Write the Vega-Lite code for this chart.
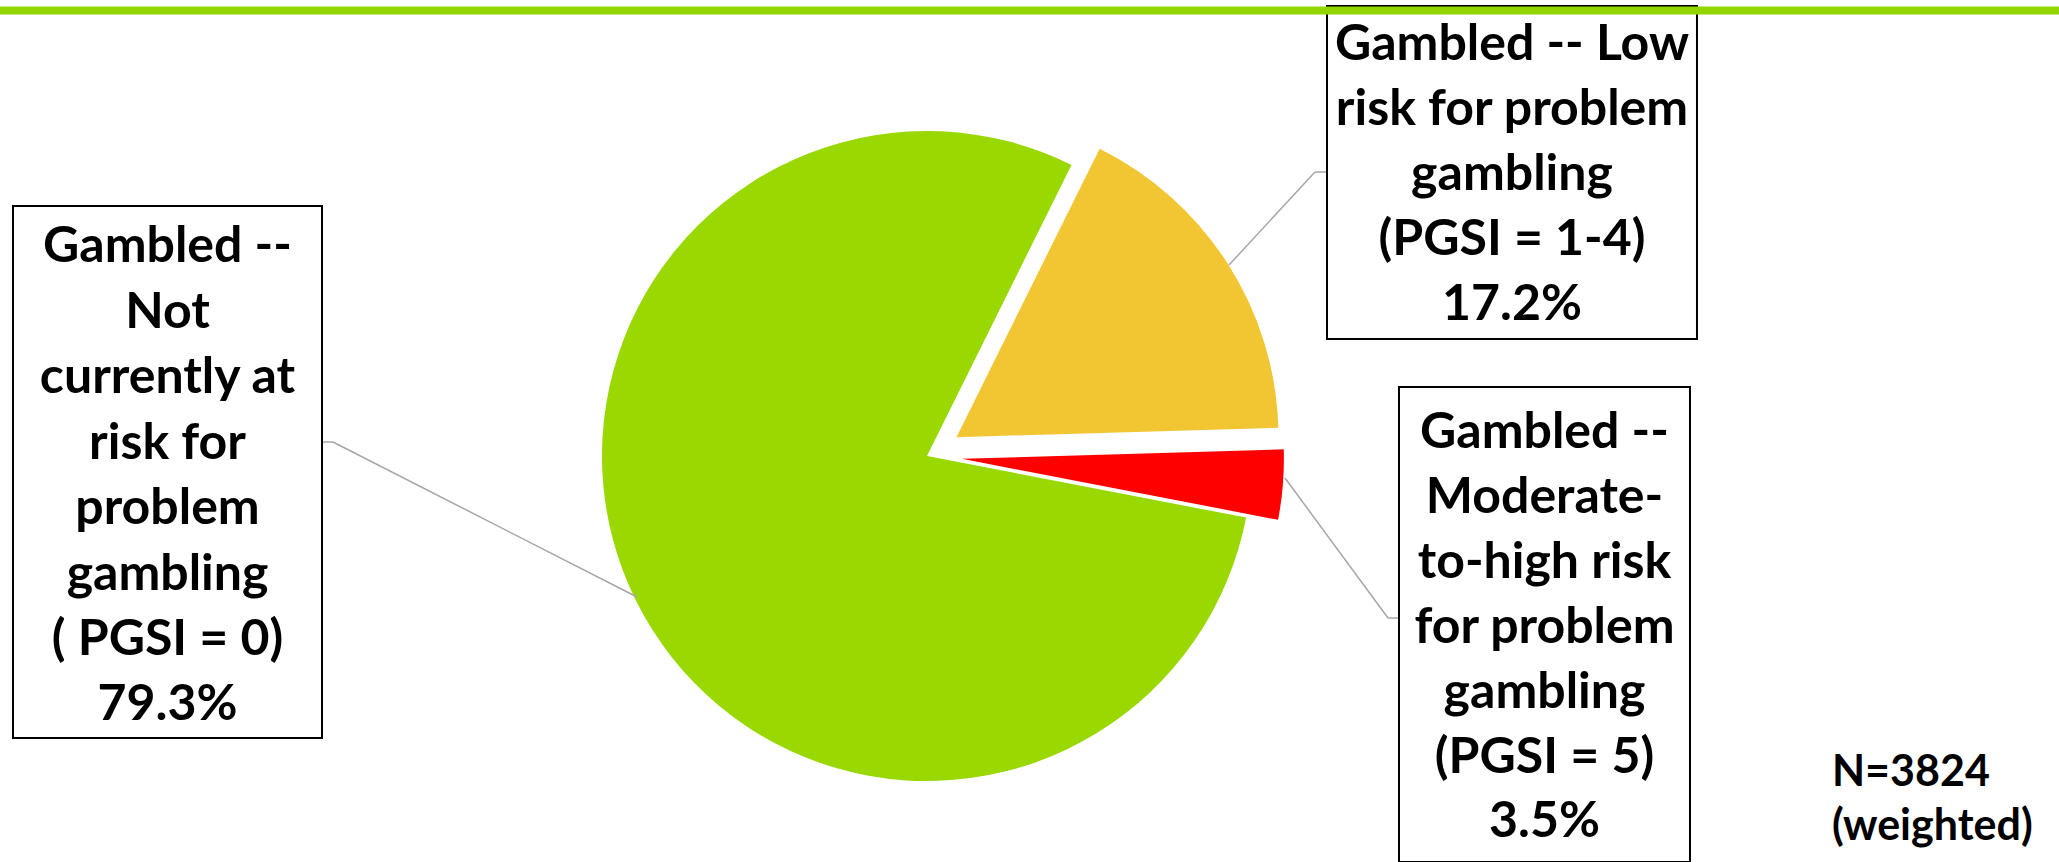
{
  "$schema": "https://vega.github.io/schema/vega-lite/v6.json",
  "width": 2059,
  "height": 862,
  "autosize": {"type": "none"},
  "padding": 0,
  "background": "white",
  "config": {"view": {"stroke": null}, "text": {"font": "Lato", "fontWeight": "bold", "color": "black"}},
  "data": {"values": [
    {"category": "Low risk", "label": "Gambled -- Low\nrisk for problem\ngambling\n(PGSI = 1-4)", "share": 0.172},
    {"category": "Moderate-to-high risk", "label": "Gambled --\nModerate-\nto-high risk\nfor problem\ngambling\n(PGSI = 5)", "share": 0.035},
    {"category": "Not currently at risk", "label": "Gambled --\nNot\ncurrently at\nrisk for\nproblem\ngambling\n( PGSI = 0)", "share": 0.793}
  ]},
  "transform": [
    {"stack": "share", "groupby": [], "sort": [{"field": "category", "order": "ascending"}], "as": ["s0", "s1"]}
  ],
  "layer": [
    {
      "transform": [{"filter": "datum.category == 'Not currently at risk'"}],
      "mark": {"type": "arc", "radius": 325},
      "encoding": {
        "x": {"datum": 0, "type": "quantitative", "scale": {"domain": [-2.8523, 3.4831], "nice": false, "zero": false}, "axis": null},
        "y": {"datum": 0, "type": "quantitative", "scale": {"domain": [-1.2492, 1.4031], "nice": false, "zero": false}, "axis": null},
        "theta": {"field": "s0", "type": "quantitative", "stack": null, "scale": {"domain": [0, 1], "range": [0.4608, 6.744]}},
        "theta2": {"field": "s1"},
        "color": {"field": "category", "type": "nominal", "scale": {"domain": ["Low risk", "Moderate-to-high risk", "Not currently at risk"], "range": ["#f2c532", "#ff0000", "#99d800"]}, "legend": null}
      }
    },
    {
      "transform": [{"filter": "datum.category == 'Low risk'"}],
      "mark": {"type": "arc", "radius": 322},
      "encoding": {
        "x": {"datum": 0.0907, "type": "quantitative", "scale": {"domain": [-2.8523, 3.4831], "nice": false, "zero": false}, "axis": null},
        "y": {"datum": 0.058, "type": "quantitative", "scale": {"domain": [-1.2492, 1.4031], "nice": false, "zero": false}, "axis": null},
        "theta": {"field": "s0", "type": "quantitative", "stack": null, "scale": {"domain": [0, 1], "range": [0.4608, 6.744]}},
        "theta2": {"field": "s1"},
        "color": {"field": "category", "type": "nominal", "scale": {"domain": ["Low risk", "Moderate-to-high risk", "Not currently at risk"], "range": ["#f2c532", "#ff0000", "#99d800"]}, "legend": null}
      }
    },
    {
      "transform": [{"filter": "datum.category == 'Moderate-to-high risk'"}],
      "mark": {"type": "arc", "radius": 322},
      "encoding": {
        "x": {"datum": 0.1074, "type": "quantitative", "scale": {"domain": [-2.8523, 3.4831], "nice": false, "zero": false}, "axis": null},
        "y": {"datum": -0.0086, "type": "quantitative", "scale": {"domain": [-1.2492, 1.4031], "nice": false, "zero": false}, "axis": null},
        "theta": {"field": "s0", "type": "quantitative", "stack": null, "scale": {"domain": [0, 1], "range": [0.4608, 6.744]}},
        "theta2": {"field": "s1"},
        "color": {"field": "category", "type": "nominal", "scale": {"domain": ["Low risk", "Moderate-to-high risk", "Not currently at risk"], "range": ["#f2c532", "#ff0000", "#99d800"]}, "legend": null}
      }
    },
    {
      "transform": [{"filter": "datum.category == 'Not currently at risk'"}],
      "mark": {"type": "rule", "color": "#a6a6a6", "strokeWidth": 1.5},
      "encoding": {
        "x": {"datum": -1.8615, "type": "quantitative", "scale": {"domain": [-2.8523, 3.4831], "nice": false, "zero": false}, "axis": null},
        "y": {"datum": 0.0431, "type": "quantitative", "scale": {"domain": [-1.2492, 1.4031], "nice": false, "zero": false}, "axis": null},
        "x2": {"datum": -1.8277},
        "y2": {"datum": 0.0431}
      }
    },
    {
      "transform": [{"filter": "datum.category == 'Not currently at risk'"}],
      "mark": {"type": "rule", "color": "#a6a6a6", "strokeWidth": 1.5},
      "encoding": {
        "x": {"datum": -1.8277, "type": "quantitative", "scale": {"domain": [-2.8523, 3.4831], "nice": false, "zero": false}, "axis": null},
        "y": {"datum": 0.0431, "type": "quantitative", "scale": {"domain": [-1.2492, 1.4031], "nice": false, "zero": false}, "axis": null},
        "x2": {"datum": -0.8923},
        "y2": {"datum": -0.4338}
      }
    },
    {
      "transform": [{"filter": "datum.category == 'Low risk'"}],
      "mark": {"type": "rule", "color": "#a6a6a6", "strokeWidth": 1.5},
      "encoding": {
        "x": {"datum": 1.2308, "type": "quantitative", "scale": {"domain": [-2.8523, 3.4831], "nice": false, "zero": false}, "axis": null},
        "y": {"datum": 0.8738, "type": "quantitative", "scale": {"domain": [-1.2492, 1.4031], "nice": false, "zero": false}, "axis": null},
        "x2": {"datum": 1.1938},
        "y2": {"datum": 0.8738}
      }
    },
    {
      "transform": [{"filter": "datum.category == 'Low risk'"}],
      "mark": {"type": "rule", "color": "#a6a6a6", "strokeWidth": 1.5},
      "encoding": {
        "x": {"datum": 1.1938, "type": "quantitative", "scale": {"domain": [-2.8523, 3.4831], "nice": false, "zero": false}, "axis": null},
        "y": {"datum": 0.8738, "type": "quantitative", "scale": {"domain": [-1.2492, 1.4031], "nice": false, "zero": false}, "axis": null},
        "x2": {"datum": 0.9292},
        "y2": {"datum": 0.5877}
      }
    },
    {
      "transform": [{"filter": "datum.category == 'Moderate-to-high risk'"}],
      "mark": {"type": "rule", "color": "#a6a6a6", "strokeWidth": 1.5},
      "encoding": {
        "x": {"datum": 1.1015, "type": "quantitative", "scale": {"domain": [-2.8523, 3.4831], "nice": false, "zero": false}, "axis": null},
        "y": {"datum": -0.0677, "type": "quantitative", "scale": {"domain": [-1.2492, 1.4031], "nice": false, "zero": false}, "axis": null},
        "x2": {"datum": 1.4185},
        "y2": {"datum": -0.4985}
      }
    },
    {
      "transform": [{"filter": "datum.category == 'Moderate-to-high risk'"}],
      "mark": {"type": "rule", "color": "#a6a6a6", "strokeWidth": 1.5},
      "encoding": {
        "x": {"datum": 1.4185, "type": "quantitative", "scale": {"domain": [-2.8523, 3.4831], "nice": false, "zero": false}, "axis": null},
        "y": {"datum": -0.4985, "type": "quantitative", "scale": {"domain": [-1.2492, 1.4031], "nice": false, "zero": false}, "axis": null},
        "x2": {"datum": 1.4523},
        "y2": {"datum": -0.4985}
      }
    },
    {
      "transform": [{"filter": "datum.category == 'Not currently at risk'"}],
      "mark": {"type": "rect", "fill": "white", "stroke": "black", "strokeWidth": 2},
      "encoding": {
        "x": {"datum": -2.8123, "type": "quantitative", "scale": {"domain": [-2.8523, 3.4831], "nice": false, "zero": false}, "axis": null},
        "y": {"datum": 0.7692, "type": "quantitative", "scale": {"domain": [-1.2492, 1.4031], "nice": false, "zero": false}, "axis": null},
        "x2": {"datum": -1.8615},
        "y2": {"datum": -0.8677}
      }
    },
    {
      "transform": [{"filter": "datum.category == 'Low risk'"}],
      "mark": {"type": "rect", "fill": "white", "stroke": "black", "strokeWidth": 2},
      "encoding": {
        "x": {"datum": 1.2308, "type": "quantitative", "scale": {"domain": [-2.8523, 3.4831], "nice": false, "zero": false}, "axis": null},
        "y": {"datum": 1.3846, "type": "quantitative", "scale": {"domain": [-1.2492, 1.4031], "nice": false, "zero": false}, "axis": null},
        "x2": {"datum": 2.3692},
        "y2": {"datum": 0.36}
      }
    },
    {
      "transform": [{"filter": "datum.category == 'Moderate-to-high risk'"}],
      "mark": {"type": "rect", "fill": "white", "stroke": "black", "strokeWidth": 2},
      "encoding": {
        "x": {"datum": 1.4523, "type": "quantitative", "scale": {"domain": [-2.8523, 3.4831], "nice": false, "zero": false}, "axis": null},
        "y": {"datum": 0.2123, "type": "quantitative", "scale": {"domain": [-1.2492, 1.4031], "nice": false, "zero": false}, "axis": null},
        "x2": {"datum": 2.3477},
        "y2": {"datum": -1.2492}
      }
    },
    {
      "transform": [{"filter": "datum.category == 'Low risk'"}],
      "mark": {"type": "rule", "color": "#93d500", "strokeWidth": 8},
      "encoding": {
        "x": {"datum": -2.8523, "type": "quantitative", "scale": {"domain": [-2.8523, 3.4831], "nice": false, "zero": false}, "axis": null},
        "y": {"datum": 1.3708, "type": "quantitative", "scale": {"domain": [-1.2492, 1.4031], "nice": false, "zero": false}, "axis": null},
        "x2": {"datum": 3.4831}
      }
    },
    {
      "transform": [{"filter": "datum.category == 'Not currently at risk'"}],
      "mark": {"type": "text", "lineBreak": "\n", "fontSize": 50, "lineHeight": 65.5, "align": "center", "baseline": "middle"},
      "encoding": {
        "x": {"datum": -2.3369, "type": "quantitative", "scale": {"domain": [-2.8523, 3.4831], "nice": false, "zero": false}, "axis": null},
        "y": {"datum": 0.6431, "type": "quantitative", "scale": {"domain": [-1.2492, 1.4031], "nice": false, "zero": false}, "axis": null},
        "text": {"field": "label"}
      }
    },
    {
      "transform": [{"filter": "datum.category == 'Not currently at risk'"}],
      "mark": {"type": "text", "fontSize": 50, "align": "center", "baseline": "middle"},
      "encoding": {
        "x": {"datum": -2.3369, "type": "quantitative", "scale": {"domain": [-2.8523, 3.4831], "nice": false, "zero": false}, "axis": null},
        "y": {"datum": -0.7662, "type": "quantitative", "scale": {"domain": [-1.2492, 1.4031], "nice": false, "zero": false}, "axis": null},
        "text": {"field": "share", "type": "quantitative", "format": ".1%"}
      }
    },
    {
      "transform": [{"filter": "datum.category == 'Low risk'"}],
      "mark": {"type": "text", "lineBreak": "\n", "fontSize": 50, "lineHeight": 65, "align": "center", "baseline": "middle"},
      "encoding": {
        "x": {"datum": 1.8, "type": "quantitative", "scale": {"domain": [-2.8523, 3.4831], "nice": false, "zero": false}, "axis": null},
        "y": {"datum": 1.2646, "type": "quantitative", "scale": {"domain": [-1.2492, 1.4031], "nice": false, "zero": false}, "axis": null},
        "text": {"field": "label"}
      }
    },
    {
      "transform": [{"filter": "datum.category == 'Low risk'"}],
      "mark": {"type": "text", "fontSize": 50, "align": "center", "baseline": "middle"},
      "encoding": {
        "x": {"datum": 1.8, "type": "quantitative", "scale": {"domain": [-2.8523, 3.4831], "nice": false, "zero": false}, "axis": null},
        "y": {"datum": 0.4646, "type": "quantitative", "scale": {"domain": [-1.2492, 1.4031], "nice": false, "zero": false}, "axis": null},
        "text": {"field": "share", "type": "quantitative", "format": ".1%"}
      }
    },
    {
      "transform": [{"filter": "datum.category == 'Moderate-to-high risk'"}],
      "mark": {"type": "text", "lineBreak": "\n", "fontSize": 50, "lineHeight": 65, "align": "center", "baseline": "middle"},
      "encoding": {
        "x": {"datum": 1.9, "type": "quantitative", "scale": {"domain": [-2.8523, 3.4831], "nice": false, "zero": false}, "axis": null},
        "y": {"datum": 0.0708, "type": "quantitative", "scale": {"domain": [-1.2492, 1.4031], "nice": false, "zero": false}, "axis": null},
        "text": {"field": "label"}
      }
    },
    {
      "transform": [{"filter": "datum.category == 'Moderate-to-high risk'"}],
      "mark": {"type": "text", "fontSize": 50, "align": "center", "baseline": "middle"},
      "encoding": {
        "x": {"datum": 1.9, "type": "quantitative", "scale": {"domain": [-2.8523, 3.4831], "nice": false, "zero": false}, "axis": null},
        "y": {"datum": -1.1262, "type": "quantitative", "scale": {"domain": [-1.2492, 1.4031], "nice": false, "zero": false}, "axis": null},
        "text": {"field": "share", "type": "quantitative", "format": ".1%"}
      }
    },
    {
      "transform": [{"filter": "datum.category == 'Low risk'"}],
      "mark": {"type": "text", "text": ["N=3824", "(weighted)"], "fontSize": 43, "lineHeight": 54, "align": "left", "baseline": "middle"},
      "encoding": {
        "x": {"datum": 2.7846, "type": "quantitative", "scale": {"domain": [-2.8523, 3.4831], "nice": false, "zero": false}, "axis": null},
        "y": {"datum": -0.9754, "type": "quantitative", "scale": {"domain": [-1.2492, 1.4031], "nice": false, "zero": false}, "axis": null}
      }
    }
  ]
}
